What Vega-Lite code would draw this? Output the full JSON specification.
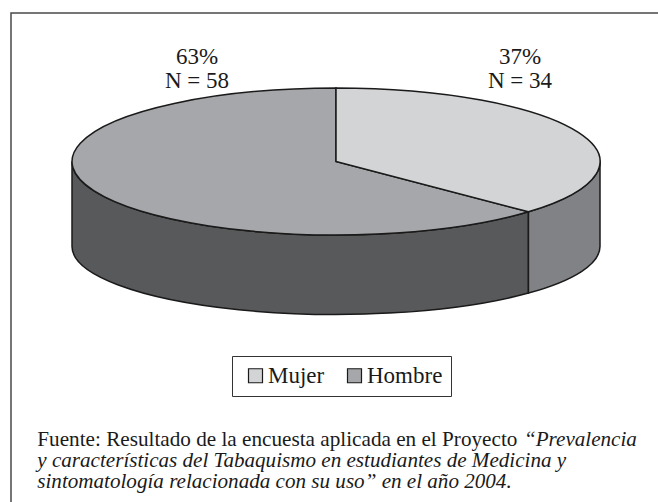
{
  "$schema": "https://vega.github.io/schema/vega-lite/v6.json",
  "width": 647,
  "height": 489,
  "autosize": {"type": "none"},
  "padding": {"left": 11, "top": 13, "right": 0, "bottom": 0},
  "background": "white",
  "view": {"stroke": "#4a4a4a", "strokeWidth": 1.5, "strokeDash": [647, 1136, 489, 1], "fill": "white"},
  "config": {
    "font": "Liberation Serif"
  },
  "data": {"values": [
    {"sexo": "Mujer", "n": 34, "pct": 37},
    {"sexo": "Hombre", "n": 58, "pct": 63}
  ]},
  "layer": [
    {
      "transform": [{"filter": "datum.sexo === 'Hombre'"}],
      "mark": {"type": "point", "filled": true, "opacity": 1, "size": 278784, "xOffset": 1.5, "yOffset": -96,
        "shape": "M0.729,0.1906 A1,0.2784 0 0 1 -1,0 L-1,0.322 A1,0.2576 0 0 0 0.729,0.4983 Z",
        "fill": "#58595B", "stroke": "#1a1a1a", "strokeWidth": 1.5}
    },
    {
      "transform": [{"filter": "datum.sexo === 'Mujer'"}],
      "mark": {"type": "point", "filled": true, "opacity": 1, "size": 278784, "xOffset": 1.5, "yOffset": -96,
        "shape": "M1,0 A1,0.2784 0 0 1 0.729,0.1906 L0.729,0.4983 A1,0.2576 0 0 0 1,0.322 Z",
        "fill": "#818285", "stroke": "#1a1a1a", "strokeWidth": 1.5}
    },
    {
      "transform": [{"filter": "datum.sexo === 'Hombre'"}],
      "mark": {"type": "point", "filled": true, "opacity": 1, "size": 278784, "xOffset": 1.5, "yOffset": -96,
        "shape": "M0,0 L0.729,0.1906 A1,0.2784 0 1 1 0,-0.2784 Z",
        "stroke": "#1a1a1a", "strokeWidth": 1.5},
      "encoding": {
        "fill": {"field": "sexo", "type": "nominal",
          "scale": {"domain": ["Mujer", "Hombre"], "range": ["#D3D4D6", "#A6A7AA"]},
          "legend": {"title": null, "orient": "none", "legendX": 221, "legendY": 343, "direction": "horizontal",
            "symbolType": "square", "symbolSize": 196, "symbolStrokeColor": "#1a1a1a", "symbolStrokeWidth": 1.2,
            "symbolOpacity": 1, "labelFont": "Liberation Serif", "labelFontSize": 23, "labelColor": "#1a1a1a",
            "labelOffset": 1, "columnPadding": 14, "padding": 8, "symbolOffset": 4,
            "strokeColor": "#333333", "fillColor": "white"}}
      }
    },
    {
      "transform": [{"filter": "datum.sexo === 'Mujer'"}],
      "mark": {"type": "point", "filled": true, "opacity": 1, "size": 278784, "xOffset": 1.5, "yOffset": -96,
        "shape": "M0,0 L0,-0.2784 A1,0.2784 0 0 1 0.729,0.1906 Z",
        "stroke": "#1a1a1a", "strokeWidth": 1.5},
      "encoding": {
        "fill": {"field": "sexo", "type": "nominal"}
      }
    },
    {
      "transform": [{"filter": "datum.sexo === 'Mujer'"}, {"calculate": "[datum.pct + '%', 'N = ' + datum.n]", "as": "label"}],
      "mark": {"type": "text", "font": "Liberation Serif", "fontSize": 23, "lineHeight": 23.5, "align": "center", "baseline": "alphabetic", "dx": 185.5, "dy": -193.5, "color": "#1a1a1a"},
      "encoding": {"text": {"field": "label"}}
    },
    {
      "transform": [{"filter": "datum.sexo === 'Hombre'"}, {"calculate": "[datum.pct + '%', 'N = ' + datum.n]", "as": "label"}],
      "mark": {"type": "text", "font": "Liberation Serif", "fontSize": 23, "lineHeight": 23.5, "align": "center", "baseline": "alphabetic", "dx": -137.5, "dy": -193.5, "color": "#1a1a1a"},
      "encoding": {"text": {"field": "label"}}
    },
    {
      "data": {"values": [{}]},
      "mark": {"type": "text", "font": "Liberation Serif", "fontSize": 21.2, "align": "left", "baseline": "alphabetic", "dx": -297.2, "dy": 188.0, "color": "#1a1a1a"},
      "encoding": {"text": {"value": "Fuente: Resultado de la encuesta aplicada en el Proyecto"}}
    },
    {
      "data": {"values": [{}]},
      "mark": {"type": "text", "font": "Liberation Serif", "fontSize": 21.1, "fontStyle": "italic", "align": "left", "baseline": "alphabetic", "dx": 189.5, "dy": 188.0, "color": "#1a1a1a"},
      "encoding": {"text": {"value": "“Prevalencia"}}
    },
    {
      "data": {"values": [{}]},
      "mark": {"type": "text", "font": "Liberation Serif", "fontSize": 21.1, "fontStyle": "italic", "lineHeight": 21.3, "align": "left", "baseline": "alphabetic", "dx": -297.2, "dy": 209.4, "color": "#1a1a1a"},
      "encoding": {"text": {"value": ["y características del Tabaquismo en estudiantes de Medicina y", "sintomatología relacionada con su uso” en el año 2004."]}}
    }
  ]
}
